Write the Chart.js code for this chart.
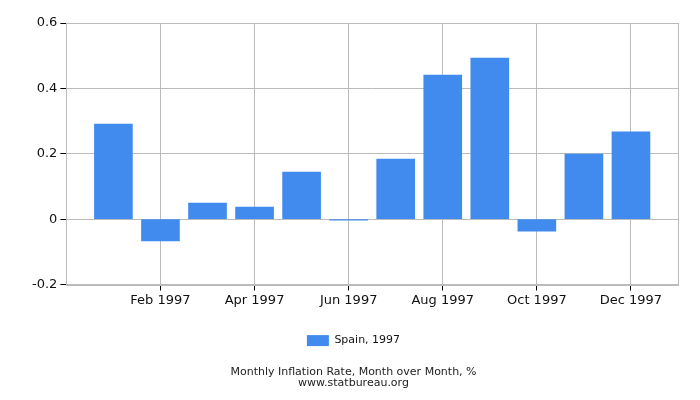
<!DOCTYPE html>
<html>
<head>
<meta charset="utf-8">
<script src="https://cdn.jsdelivr.net/npm/chart.js@4.4.0/dist/chart.umd.min.js"></script>
<style>
body { margin: 0; background: #fff; }
#wrap { width: 700px; height: 400px; }
</style>
</head>
<body>
<div id="wrap"><canvas id="myChart"></canvas></div>
<script>
var months = ["Jan 1997", "Feb 1997", "Mar 1997", "Apr 1997", "May 1997", "Jun 1997",
              "Jul 1997", "Aug 1997", "Sep 1997", "Oct 1997", "Nov 1997", "Dec 1997"];
var values = [0.291, -0.067, 0.049, 0.037, 0.144, -0.003, 0.184, 0.441, 0.493, -0.037, 0.199, 0.267];
var yTicks = [-0.2, 0, 0.2, 0.4, 0.6];
var seriesName = "Spain, 1997";

// one empty slot either side, so the months sit inside the frame
var labels = [""].concat(months, [""]);
var data = [null].concat(values, [null]);

function shown(i) {
    return i >= 2 && i <= 12 && i % 2 == 0;
}

var frame = {
    id: "frame",
    afterDraw: function(chart) {
        var a = chart.chartArea, c = chart.ctx;
        c.save();
        c.strokeStyle = "#bbbbbb";
        c.lineWidth = 1;
        c.strokeRect(Math.round(a.left) + 0.5, Math.round(a.top) + 0.5,
            Math.round(a.right - a.left), Math.round(a.bottom - a.top));
        c.restore();
    }
};

Chart.defaults.font.family = "'DejaVu Sans', sans-serif";

new Chart("myChart", {
    type: "bar",
    data: {
        labels: labels,
        datasets: [{
            label: seriesName,
            data: data,
            backgroundColor: "#418bee",
            barThickness: 38
        }]
    },
    options: {
        responsive: true,
        maintainAspectRatio: false,
        animation: false,
        layout: { padding: { top: 23, right: 22, left: 29, bottom: 6 } },
        scales: {
            x: {
                offset: false,
                afterFit: function(axis) { axis.height += 2; },
                grid: {
                    offset: false,
                    color: function(ctx) { return shown(ctx.index) ? "#bbbbbb" : "rgba(0,0,0,0)"; },
                    tickColor: function(ctx) { return shown(ctx.index) ? "#000000" : "rgba(0,0,0,0)"; },
                    tickLength: 6
                },
                border: { color: "#bbbbbb" },
                ticks: {
                    autoSkip: false,
                    maxRotation: 0,
                    padding: 2,
                    color: "#111",
                    font: { size: 13 },
                    callback: function(v, i) { return shown(i) ? labels[i] : ""; }
                }
            },
            y: {
                min: yTicks[0],
                max: yTicks[yTicks.length - 1],
                afterBuildTicks: function(axis) {
                    axis.ticks = yTicks.map(function(v) { return { value: v }; });
                },
                grid: { color: "#bbbbbb", tickColor: "#000000", tickLength: 6 },
                border: { color: "#bbbbbb" },
                ticks: {
                    padding: 3,
                    color: "#111",
                    font: { size: 13 },
                    callback: function(v) { return String(Math.round(v * 10) / 10); }
                }
            }
        },
        plugins: {
            legend: {
                position: "bottom",
                weight: 1000,
                labels: { boxWidth: 22, boxHeight: 11, color: "#111", font: { size: 11 }, padding: 23 }
            },
            title: {
                display: true,
                position: "bottom",
                weight: 2000,
                text: ["Monthly Inflation Rate, Month over Month, %", "www.statbureau.org"],
                color: "#222",
                font: { size: 11, weight: "normal", lineHeight: 0.95 },
                padding: { top: 11, bottom: 6 }
            },
            tooltip: { enabled: false }
        }
    },
    plugins: [frame]
});
</script>
</body>
</html>
